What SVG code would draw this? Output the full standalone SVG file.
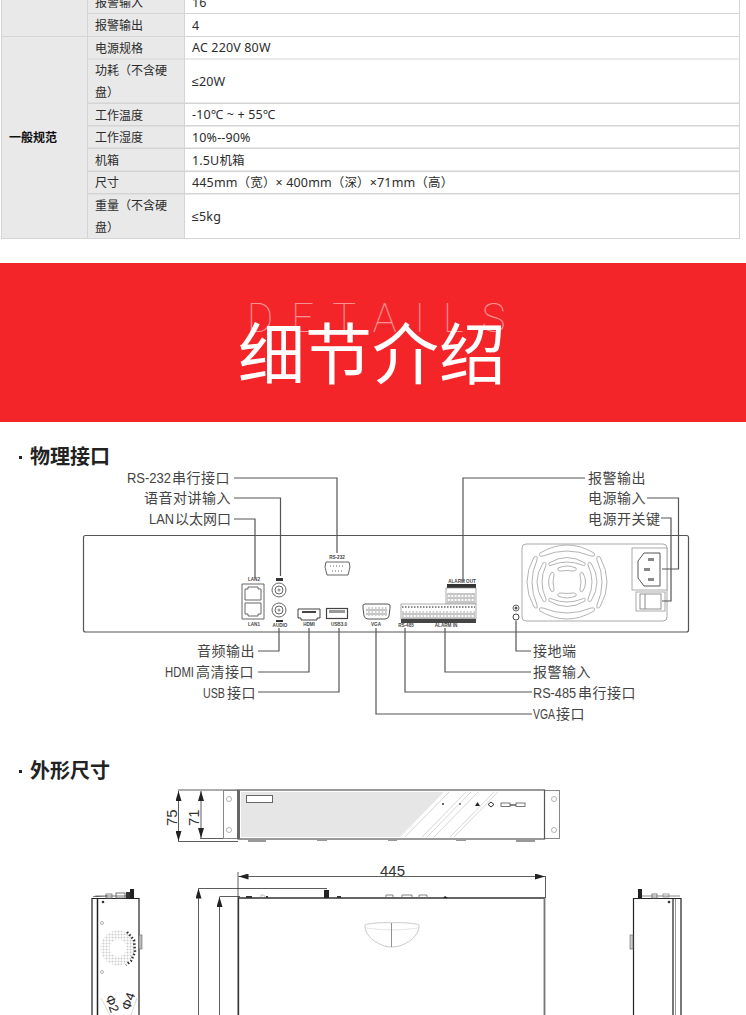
<svg xmlns="http://www.w3.org/2000/svg" width="746" height="1015" viewBox="0 0 746 1015">
<style>
text{font-family:"Noto Sans","Noto Sans CJK SC",sans-serif;}
.t{font-size:12px;fill:#2c2c2c;}
.v{font-size:12.5px;fill:#2c2c2c;letter-spacing:.15px;}
.b{font-size:12px;fill:#111;font-weight:700;}
.l{font-size:14px;fill:#444;letter-spacing:.5px;font-family:"Noto Sans CJK SC",sans-serif;}
.e{text-anchor:end;}
.la{font-family:"Liberation Sans",sans-serif;letter-spacing:0;}
.h{font-size:20px;font-weight:700;fill:#222;}
.tiny{font-size:4.6px;fill:#444;font-family:"Liberation Sans",sans-serif;text-anchor:middle;font-weight:700;}
.c{fill:none;stroke:#555;stroke-width:1.2;}
.o{fill:none;stroke:#666;stroke-width:1;}
.g{fill:none;stroke:#aaa;stroke-width:.9;}
.d{fill:none;stroke:#333;stroke-width:.8;}
.k{fill:none;stroke:#222;stroke-width:1.2;}
.dim{font-size:15px;fill:#333;font-family:"Liberation Sans",sans-serif;}
.n{font-family:"Liberation Sans",sans-serif;}
</style>
<defs>
<marker id="a" viewBox="0 0 10 6" refX="10" refY="3" markerWidth="14" markerHeight="6" markerUnits="userSpaceOnUse" orient="auto-start-reverse"><path d="M0 0L10 3L0 6Z" fill="#222"/></marker>
<pattern id="dots" width="3" height="3" patternUnits="userSpaceOnUse"><circle cx="1.5" cy="1.5" r="1" fill="#ccc"/></pattern>
<pattern id="pins" width="3.4" height="4" patternUnits="userSpaceOnUse"><circle cx="1.7" cy="2" r="1.2" fill="none" stroke="#777" stroke-width=".6"/></pattern>
</defs>
<rect width="746" height="1015" fill="#fff"/>

<g id="spec-table">
<rect x="1" y="0" width="739" height="239" fill="#d4d4d4"/>
<rect x="2" y="0" width="85" height="36" fill="#e9e9e9"/>
<rect x="2" y="37" width="85" height="201" fill="#e9e9e9"/>
<g fill="#e9e9e9">
<rect x="88" y="0" width="96" height="13"/><rect x="88" y="14" width="96" height="22"/><rect x="88" y="37" width="96" height="21.500"/><rect x="88" y="59.500" width="96" height="43"/><rect x="88" y="104" width="96" height="21"/><rect x="88" y="126.500" width="96" height="21"/><rect x="88" y="149" width="96" height="21.500"/><rect x="88" y="172" width="96" height="21"/><rect x="88" y="194.500" width="96" height="43.500"/>
</g>
<g fill="#fff">
<rect x="185" y="0" width="554" height="13"/><rect x="185" y="14" width="554" height="22"/><rect x="185" y="37" width="554" height="21.500"/><rect x="185" y="59.500" width="554" height="43"/><rect x="185" y="104" width="554" height="21"/><rect x="185" y="126.500" width="554" height="21"/><rect x="185" y="149" width="554" height="21.500"/><rect x="185" y="172" width="554" height="21"/><rect x="185" y="194.500" width="554" height="43.500"/>
</g>
<text class="t" x="95" y="7">报警输入</text><text class="v" x="192" y="7">16</text>
<text class="t" x="95" y="30">报警输出</text><text class="v" x="192" y="30">4</text>
<text class="b" x="9" y="142">一般规范</text>
<text class="t" x="95" y="53">电源规格</text><text class="v" x="192" y="52">AC 220V 80W</text>
<text class="t" x="95" y="75">功耗（不含硬</text><text class="t" x="95" y="97">盘）</text><text class="v" x="192" y="86"><tspan class="n">≤</tspan>20W</text>
<text class="t" x="95" y="120">工作温度</text><text class="v" x="192" y="119">-10℃ ~ + 55℃</text>
<text class="t" x="95" y="142">工作湿度</text><text class="v" x="192" y="142">10%--90%</text>
<text class="t" x="95" y="165">机箱</text><text class="v" x="192" y="165">1.5U机箱</text>
<text class="t" x="95" y="187">尺寸</text><text class="v" x="192" y="187">445mm（宽）× 400mm（深）×71mm（高）</text>
<text class="t" x="95" y="210">重量（不含硬</text><text class="t" x="95" y="232">盘）</text><text class="v" x="192" y="221"><tspan class="n">≤</tspan>5kg</text>
</g>

<g id="banner">
<rect x="0" y="263" width="746" height="159" fill="#f42528"/>
<text x="247" y="332" font-size="40" fill="#fff" opacity=".5" letter-spacing="18" style="font-family:Roboto,sans-serif;font-weight:100">DETAILS</text>
<text x="372" y="379" text-anchor="middle" font-size="67" fill="#fff" style="font-family:'Noto Sans CJK SC',sans-serif;font-weight:400">细节介绍</text>
</g>

<g id="heading-ports">
<rect x="19" y="456" width="3" height="3" fill="#222"/>
<text class="h" x="30" y="464">物理接口</text>
</g>

<g id="device-rear">
<rect x="83.5" y="535.5" width="605" height="96.5" rx="2" fill="#fff" stroke="#555" stroke-width="1.2"/>
<g id="lan-ports">
<text class="tiny" x="254" y="581">LAN2</text>
<path class="o" d="M242 584H264V619H242Z"/>
<path class="o" d="M245 589H248V587H258V589H261V600H245Z"/>
<path class="o" d="M245 603H261V614H258V616H248V614H245Z"/>
<text class="tiny" x="254" y="626">LAN1</text>
</g>
<g id="audio-ports">
<rect x="276" y="578" width="7" height="3" fill="#333"/>
<circle class="o" cx="279" cy="590" r="7"/><circle class="o" cx="279" cy="590" r="4"/><circle fill="#999" cx="279" cy="590" r="1.5"/>
<circle class="o" cx="279" cy="610" r="7"/><circle class="o" cx="279" cy="610" r="4"/><circle fill="#999" cx="279" cy="610" r="1.5"/>
<rect x="276" y="620" width="7" height="2" fill="#333"/>
<text class="tiny" x="280" y="627">AUDIO</text>
</g>
<g id="rs232-port">
<text class="tiny" x="337" y="559">RS-232</text>
<path class="o" d="M326 562H349L350 567L348 575H327L325 567Z"/>
<path d="M330 566H345M332 571H343" stroke="#666" stroke-width="1" stroke-dasharray="1 2"/>
</g>
<g id="hdmi-port">
<path d="M298 609H320V618H317V620H301V618H298Z" fill="#fff" stroke="#444" stroke-width="1"/>
<path d="M302 612H316" stroke="#444" stroke-width="2"/>
<text class="tiny" x="309" y="626">HDMI</text>
</g>
<g id="usb-port">
<rect x="326.500" y="608.500" width="21" height="10" fill="#fff" stroke="#444" stroke-width="1.2"/>
<rect x="329" y="610" width="16" height="3" fill="#999"/>
<text class="tiny" x="339" y="626">USB3.0</text>
</g>
<g id="vga-port">
<path d="M365 604H388Q391 604 390 608L389 616Q388 619 385 619H368Q365 619 364 616L363 608Q362 604 365 604Z" fill="#fff" stroke="#555" stroke-width="1"/>
<rect x="366" y="607" width="21" height="9" fill="url(#pins)"/>
<text class="tiny" x="376" y="626">VGA</text>
</g>
<g id="alarm-terminals">
<text class="tiny" x="462" y="583">ALARM OUT</text>
<rect x="447" y="584" width="29" height="4" fill="#333"/>
<rect x="446" y="588" width="30" height="16" fill="#fff" stroke="#888" stroke-width=".7"/>
<rect x="447" y="593" width="28" height="10" fill="url(#pins)"/>
<rect x="401" y="604" width="75" height="15" fill="#fff" stroke="#888" stroke-width=".7"/>
<rect x="402" y="611" width="73" height="8" fill="url(#pins)"/>
<path d="M402 607H475" stroke="#666" stroke-width="1.500" stroke-dasharray="1.500 1.500"/>
<rect x="401" y="619" width="75" height="4" fill="#444"/>
<text class="tiny" x="406" y="627">RS-485</text>
<text class="tiny" x="446" y="627">ALARM IN</text>
</g>
<g id="ground">
<circle class="o" cx="516" cy="608" r="3"/><circle fill="#555" cx="516" cy="608" r="1.5"/>
<circle cx="516" cy="617" r="3" fill="#fff" stroke="#444" stroke-width="1"/>
</g>
<g id="psu">
<rect x="522" y="544" width="145" height="77" rx="4" fill="#fff" stroke="#aaa" stroke-width="1"/>
<path class="g" d="M540 553Q567 537 594 553Q596 557 591 556Q567 546 543 556Q538 557 540 553Z"/>
<path class="g" d="M549 563Q567 552 585 563Q586 567 582 565Q567 559 552 565Q548 567 549 563Z"/>
<path class="g" d="M558 568Q567 564 576 568Q577 571 573 571Q567 570 561 571Q557 571 558 568Z"/>
<path class="g" d="M540 611Q567 627 594 611Q596 607 591 608Q567 618 543 608Q538 607 540 611Z"/>
<path class="g" d="M549 601Q567 612 585 601Q586 597 582 599Q567 605 552 599Q548 597 549 601Z"/>
<path class="g" d="M558 596Q567 600 576 596Q577 593 573 593Q567 594 561 593Q557 593 558 596Z"/>
<path class="g" d="M534 557Q520 582 534 607Q538 610 537 605Q527 582 537 560Q538 555 534 557Z"/>
<path class="g" d="M543 563Q531 582 543 601Q546 603 546 599Q538 582 546 565Q546 561 543 563Z"/>
<path class="g" d="M551 573Q546 582 551 591Q554 593 554 589Q552 582 554 575Q554 571 551 573Z"/>
<path class="g" d="M600 557Q614 582 600 607Q596 610 597 605Q607 582 597 560Q596 555 600 557Z"/>
<path class="g" d="M591 563Q603 582 591 601Q588 603 588 599Q596 582 588 565Q588 561 591 563Z"/>
<path class="g" d="M583 573Q588 582 583 591Q580 593 580 589Q582 582 580 575Q580 571 583 573Z"/>
<rect x="632" y="548" width="35" height="42" fill="#fff" stroke="#aaa" stroke-width="1"/>
<path d="M644 553H660V586H644L638 578V561Z" fill="#fff" stroke="#555" stroke-width="1"/>
<rect x="648" y="558" width="6" height="3" fill="#888"/><rect x="644" y="568" width="6" height="3" fill="#888"/><rect x="648" y="578" width="6" height="3" fill="#888"/>
<rect x="636" y="592" width="29" height="19" fill="#fff" stroke="#aaa" stroke-width="1"/>
<rect x="640" y="594" width="21" height="15" fill="#fff" stroke="#777" stroke-width=".8"/>
<path d="M645 594V609" stroke="#888" stroke-width="1"/>
</g>
</g>

<g id="connectors">
<path class="c" d="M234 478H337V553"/>
<path class="c" d="M234 498H280.500V576"/>
<path class="c" d="M234 519H255V578"/>
<path class="c" d="M585 478H463V581"/>
<path class="c" d="M647 498H678.500V569H662"/>
<path class="c" d="M661 518H671V601H662"/>
<path class="c" d="M258 651H279V628"/>
<path class="c" d="M258 672H309V628"/>
<path class="c" d="M258 692H339V628"/>
<path class="c" d="M532 714H376V628"/>
<path class="c" d="M532 692H405V628"/>
<path class="c" d="M531 672H445V628"/>
<path class="c" d="M531 651H516V621"/>
</g>

<g id="labels">
<text class="l" x="127" y="483"><tspan class="la" textLength="44" lengthAdjust="spacingAndGlyphs">RS-232</tspan><tspan x="172">串行接口</tspan></text>
<text class="l e" x="231" y="503">语音对讲输入</text>
<text class="l" x="149" y="524"><tspan class="la" textLength="25" lengthAdjust="spacingAndGlyphs">LAN</tspan><tspan x="175" style="letter-spacing:0">以太网口</tspan></text>
<text class="l" x="588" y="483">报警输出</text>
<text class="l" x="588" y="503">电源输入</text>
<text class="l" x="588" y="524">电源开关键</text>
<text class="l e" x="255" y="656">音频输出</text>
<text class="l" x="165" y="677"><tspan class="la" textLength="29" lengthAdjust="spacingAndGlyphs">HDMI</tspan><tspan x="196">高清接口</tspan></text>
<text class="l" x="203" y="698"><tspan class="la" textLength="22" lengthAdjust="spacingAndGlyphs">USB</tspan><tspan x="227">接口</tspan></text>
<text class="l" x="533" y="656">接地端</text>
<text class="l" x="533" y="677">报警输入</text>
<text class="l" x="533" y="698"><tspan class="la" textLength="43" lengthAdjust="spacingAndGlyphs">RS-485</tspan><tspan x="578">串行接口</tspan></text>
<text class="l" x="533" y="719"><tspan class="la" textLength="22" lengthAdjust="spacingAndGlyphs">VGA</tspan><tspan x="556">接口</tspan></text>
</g>

<g id="heading-dimensions">
<rect x="19" y="770" width="3" height="3" fill="#222"/>
<text class="h" x="30" y="778">外形尺寸</text>
</g>

<g id="front-view">
<path d="M178 790H238M178 841.500H238M200 838.500H238" class="d" stroke-width=".6"/>
<path class="d" d="M178.500 791V841" marker-start="url(#a)" marker-end="url(#a)"/>
<path class="d" d="M201 791V838" marker-start="url(#a)" marker-end="url(#a)"/>
<text class="dim" transform="translate(177 826) rotate(-90)">75</text>
<text class="dim" transform="translate(199 826) rotate(-90)">71</text>
<rect x="223.500" y="790.500" width="15" height="48" fill="#fff" stroke="#888"/>
<rect x="544.500" y="790.500" width="15" height="48" fill="#fff" stroke="#888"/>
<rect x="238" y="790" width="306.500" height="49" fill="#fff" stroke="#555" stroke-width="1.200"/>
<rect x="237" y="790" width="3" height="49" fill="#666"/>
<path d="M241 792H444L400 837H241Z" fill="#e6e6e6"/>
<path d="M449 792L405 837M466 792L422 837M471 792L427 837M478 792L434 837M494 792L450 837M498 792L454 837" stroke="#ccc" stroke-width=".8"/>
<rect x="246.500" y="795.500" width="26" height="7" fill="#fff" stroke="#666"/>
<circle class="g" cx="229" cy="799" r="2.500"/><circle class="g" cx="229" cy="830" r="2.500"/>
<circle class="g" cx="554" cy="799" r="2.500"/><circle class="g" cx="554" cy="830" r="2.500"/>
<circle cx="443" cy="804" r="1" fill="#333"/><circle cx="460" cy="804" r="1" fill="#666"/>
<path d="M475 806L477.500 802L480 806Z" fill="#222"/>
<path d="M491 802L494 804.500L491 807L488 804.500Z" fill="none" stroke="#333"/>
<rect x="501" y="803" width="9" height="3.500" fill="#fff" stroke="#555" stroke-width=".8"/>
<path d="M510 805H516" stroke="#333" stroke-width="1.200"/>
<rect x="516" y="803" width="9" height="3.500" fill="#fff" stroke="#555" stroke-width=".8"/>
<path d="M248 839H266V842H248ZM317 839H327V841H317ZM388 839H397V841H388ZM456 839H466V841H456ZM516 839H535V842H516Z" fill="#999"/>
</g>

<g id="left-view">
<path d="M92 898V1015M139 898V1015M92 898.500H139" class="k"/>
<path d="M97.500 898V1015" stroke="#222" stroke-width="1.500"/>
<path d="M93 897L96 896H108M105 896H131" stroke="#777"/>
<rect x="106" y="894" width="6" height="4" fill="none" stroke="#666" stroke-width=".8"/>
<rect x="116" y="893" width="9" height="5" fill="none" stroke="#555" stroke-width=".8"/>
<rect x="126" y="892" width="5" height="6" fill="#333"/>
<rect x="130" y="889" width="4" height="9" fill="#222"/>
<circle cx="103" cy="902" r="1.300" fill="#333"/>
<circle class="g" cx="102" cy="923" r="1.500"/><circle class="g" cx="102" cy="972" r="1.500"/>
<circle cx="118" cy="948" r="13" fill="none" stroke="url(#dots)" stroke-width="9"/>
<path d="M127 932L134 940L135 952L131 961L126 965" fill="none" stroke="#333" stroke-width="2.500" stroke-dasharray="1.500 2"/>
<rect x="139" y="935" width="3" height="14" fill="#bbb" stroke="#666" stroke-width=".6"/>
<path d="M101 998L110 1015M137 998L131 1015" stroke="#ccc" stroke-width=".7"/>
<text font-size="13" fill="#222" class="n" transform="translate(105 997) rotate(70)">Φ2</text>
<text font-size="13" fill="#222" class="n" transform="translate(129.500 1011) rotate(-70)">Φ4</text>
</g>

<g id="top-view">
<path class="d" d="M238.500 876.500H545" marker-start="url(#a)" marker-end="url(#a)"/>
<path class="d" d="M238 872V1015M545.500 876V898"/>
<path class="d" d="M198.500 1015V888.500" marker-end="url(#a)"/>
<path class="d" d="M219.500 1015V897" marker-end="url(#a)"/>
<path class="d" d="M198.500 888.500H327M219.500 896.500H240"/>
<path d="M238.500 1015V898H544.500V1015" fill="none" stroke="#333" stroke-width="1.300"/>
<path d="M544.500 898V1015" stroke="#777" stroke-width="1.500"/>
<rect x="324" y="890" width="5" height="8" fill="#222"/>
<path d="M246 896H252V898H246ZM266 896H268V898H266ZM337 896H341V898H337Z" fill="#333"/>
<path d="M261 897L261 895H264L265 897" fill="none" stroke="#aaa" stroke-width=".7"/>
<path d="M386 898V895H393V898M402 898V895H412V898M419 898V895H427V898" fill="none" stroke="#666" stroke-width=".8"/>
<path d="M443 898L445 896L448 898Z" fill="#222"/>
<path d="M365 925C366 923 392 922 392 923C392 922 418 923 419 925C420 936 405 947 392 947C379 947 364 936 365 925Z" fill="#fff" stroke="#bbb" stroke-width=".8"/>
<path d="M366 928Q392 932 418 928" fill="none" stroke="#ddd" stroke-width=".8"/>
<path d="M391.500 923V947" stroke="#777" stroke-width=".8"/>
<text class="dim" x="380" y="876">445</text>
</g>

<g id="right-view">
<path d="M633.500 1015V898.500H681V1015" class="k"/>
<path d="M673 899V1015" stroke="#555" stroke-width="1.600"/>
<path d="M675.500 899V1015" stroke="#999" stroke-width="1"/>
<path d="M640 896H680" stroke="#888"/>
<rect x="638" y="889" width="4" height="9" fill="#222"/>
<rect x="652" y="894" width="5" height="4" fill="none" stroke="#666" stroke-width=".8"/>
<rect x="663" y="894" width="6" height="3" fill="none" stroke="#888" stroke-width=".8"/>
<circle cx="669" cy="902" r="1.300" fill="#333"/>
<rect x="630" y="935" width="3" height="14" fill="#ccc" stroke="#666" stroke-width=".6"/>
</g>
</svg>
